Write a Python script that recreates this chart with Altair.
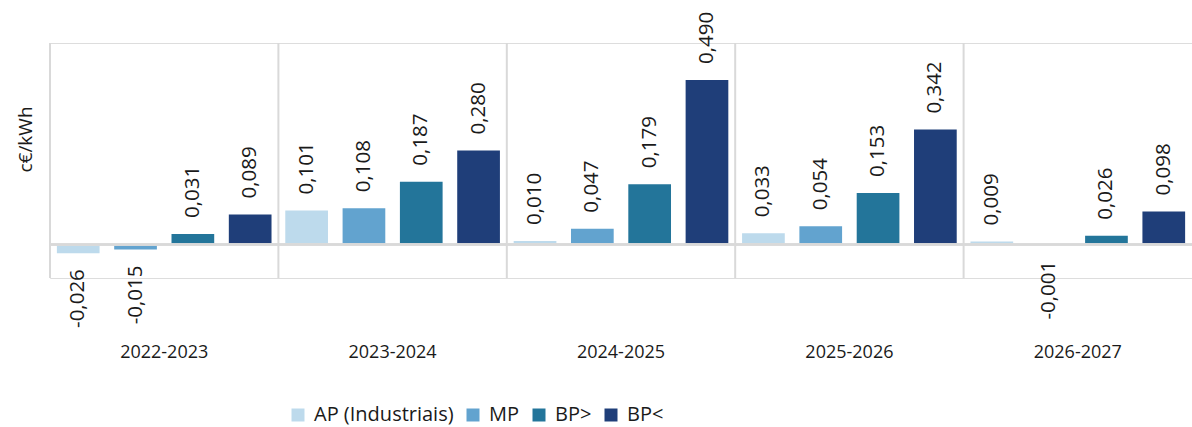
import altair as alt
import pandas as pd

years = ["2022-2023", "2023-2024", "2024-2025", "2025-2026", "2026-2027"]
series = ["AP (Industriais)", "MP", "BP>", "BP<"]
ap = [-0.026, 0.101, 0.010, 0.033, 0.009]
mp = [-0.015, 0.108, 0.047, 0.054, -0.001]
bp_gt = [0.031, 0.187, 0.179, 0.153, 0.026]
bp_lt = [0.089, 0.280, 0.490, 0.342, 0.098]
colors = ["#BDDAEC", "#62A3CF", "#23759A", "#1F3E79"]

rows = []
for s, vals in zip(series, [ap, mp, bp_gt, bp_lt]):
    for y, v in zip(years, vals):
        rows.append({"year": y, "series": s, "value": v,
                     "label": f"{v:.3f}".replace(".", ",")})
df = pd.DataFrame(rows)
years_df = pd.DataFrame({"year": years})

FONT = "Open Sans"
TXT = "#1A1A1A"

x_axis = alt.Axis(title=None, domain=False, ticks=False, grid=False,
                  bandPosition=0.5, labelAlign="center",
                  labelAngle=0, labelFont=FONT, labelFontSize=18,
                  labelColor=TXT, labelPadding=65)
x_scale = alt.Scale(domain=years, paddingInner=0, paddingOuter=0)
x_enc = alt.X("year:N", sort=years, scale=x_scale, axis=x_axis)
y_scale = alt.Scale(domain=[-0.1, 0.6], nice=False, zero=False)
y_enc = alt.Y("value:Q", scale=y_scale,
              axis=alt.Axis(title="c€/kWh", labels=False, ticks=False, domain=False,
                            grid=False, titleFont=FONT, titleFontSize=19,
                            titleFontWeight="normal", titleColor=TXT,
                            titleAngle=270, titleAlign="center",
                            titleBaseline="middle", titleX=-25, titleY=96))
xoff = alt.XOffset("series:N", sort=series,
                   scale=alt.Scale(paddingInner=0.255, paddingOuter=0.12))
color = alt.Color("series:N", sort=series,
                  scale=alt.Scale(domain=series, range=colors),
                  legend=alt.Legend(title=None, orient="none", direction="horizontal",
                                    legendX=238, legendY=362, symbolType="square",
                                    symbolSize=169, symbolStrokeWidth=0,
                                    labelFont=FONT, labelFontSize=20, labelColor=TXT,
                                    labelOffset=6, columnPadding=9, columns=4))

bars = alt.Chart(df).mark_bar().encode(
    x=x_enc, xOffset=xoff, y=y_enc, y2=alt.datum(0), color=color,
)

dividers = alt.Chart(years_df).mark_rule(color="#D9D9D9", strokeWidth=2).encode(
    x=alt.X("year:N", sort=years, bandPosition=0, axis=x_axis),
    y=alt.datum(0.6, scale=y_scale),
    y2=alt.datum(-0.1),
)

zero = alt.Chart(years_df).mark_rule(color="#D9D9D9", strokeWidth=2).encode(
    y=alt.datum(0, scale=y_scale),
)

pos_labels = alt.Chart(df).transform_filter("datum.value >= 0").mark_text(
    angle=270, align="left", baseline="middle", dx=16,
    font=FONT, fontSize=20.5, color=TXT,
).encode(x=alt.X("year:N", sort=years, axis=x_axis),
         xOffset=alt.XOffset("series:N", sort=series),
         y=alt.Y("value:Q", scale=y_scale), text="label:N")

neg_labels = alt.Chart(df).transform_filter("datum.value < 0").mark_text(
    angle=270, align="right", baseline="middle", dx=-16,
    font=FONT, fontSize=20.5, color=TXT,
).encode(x=alt.X("year:N", sort=years, axis=x_axis),
         xOffset=alt.XOffset("series:N", sort=series),
         y=alt.Y("value:Q", scale=y_scale), text="label:N")

chart = alt.layer(bars, dividers, zero, pos_labels, neg_labels).properties(
    width=1142, height=235,
    autosize=alt.AutoSizeParams(type="none"),
    padding={"left": 50, "top": 43, "right": 0, "bottom": 149},
).configure_view(stroke=None).configure(background="white")

chart.save("out.html", embed_options={"renderer": "svg", "actions": False})
